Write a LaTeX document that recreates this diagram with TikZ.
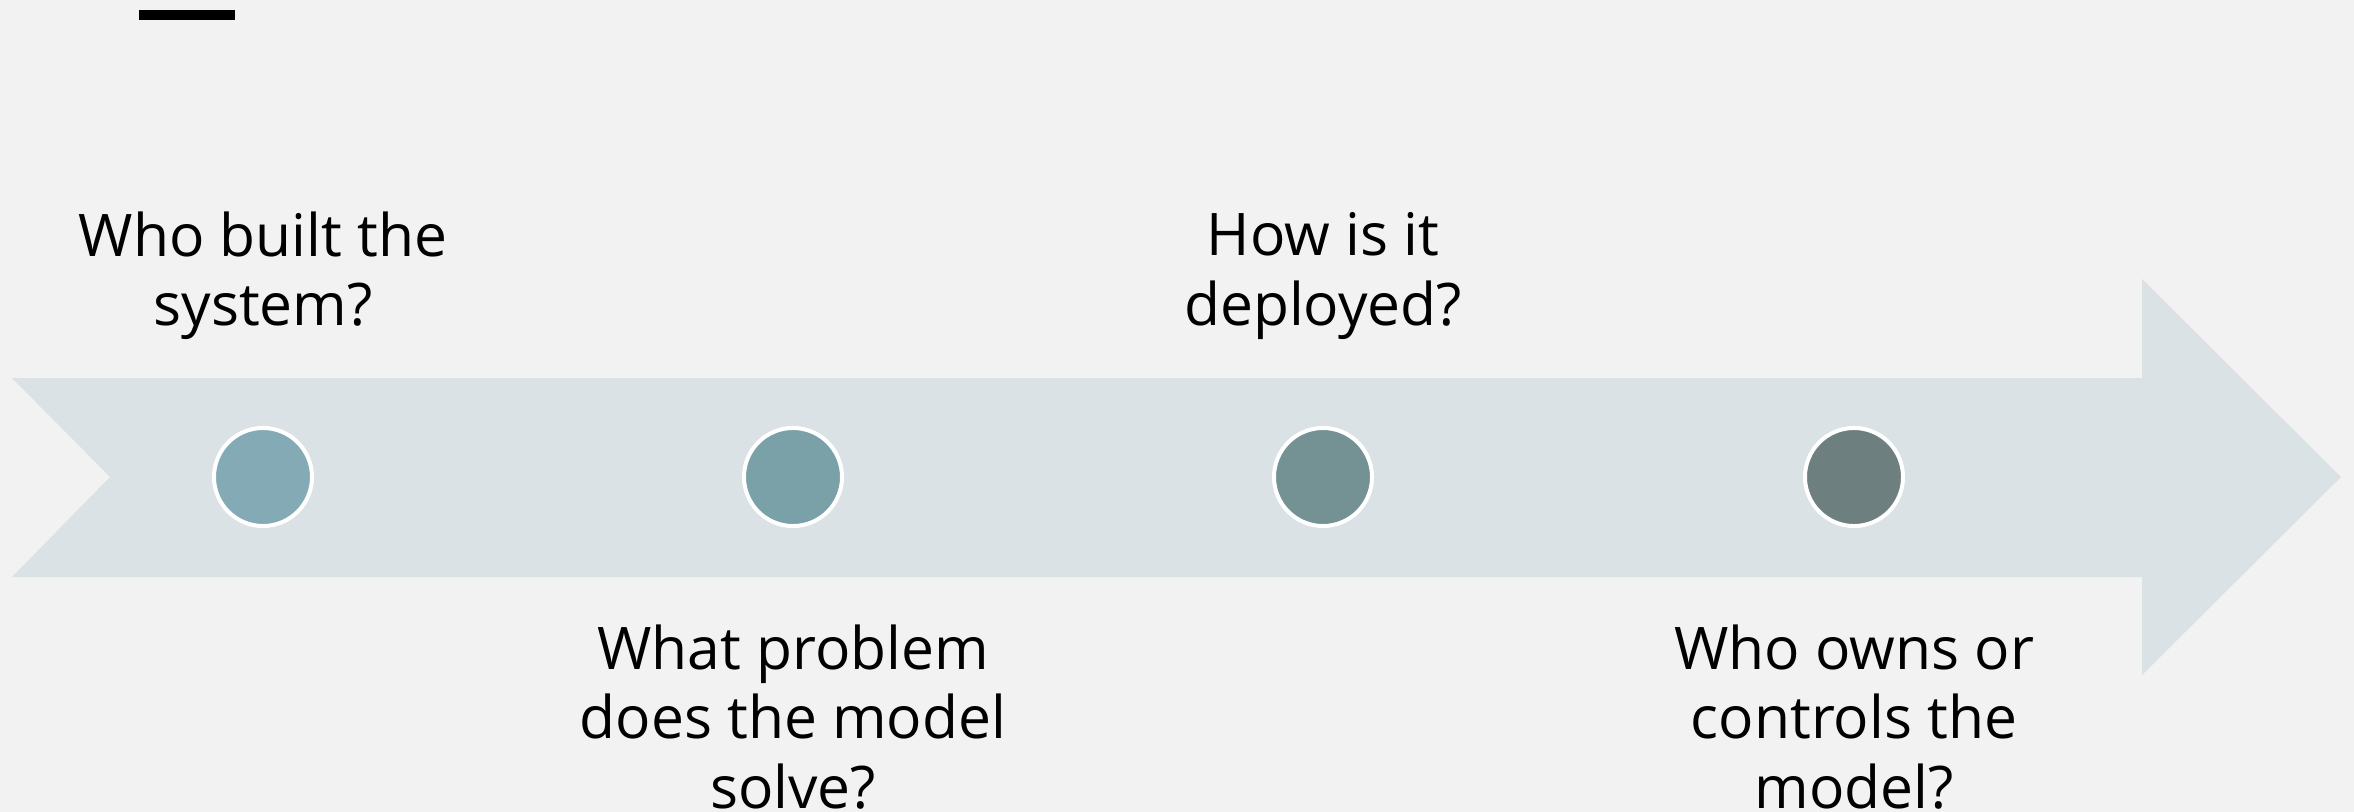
\documentclass[tikz,border=0pt]{standalone}
\usepackage{fontspec}
\setmainfont{Open Sans}
\definecolor{pagegray}{HTML}{F2F2F2}
\definecolor{bandgray}{HTML}{DAE2E5}
\definecolor{dotA}{HTML}{84ABB5}
\definecolor{dotB}{HTML}{7AA0A8}
\definecolor{dotC}{HTML}{749294}
\definecolor{dotD}{HTML}{6E7F80}
\begin{document}
\begin{tikzpicture}[x=0.01cm, y=-0.01cm,
    dot/.style={circle, draw=white, line width=0.04cm, minimum size=0.98cm, inner sep=0pt},
    question/.style={align=center, inner sep=0pt, font=\fontsize{16.7}{19.7}\selectfont}]
        % Page
        \fill[pagegray] (0,0) rectangle (2354,812);
        \fill[black] (139,10) rectangle (235,20); % Title rule

        % Timeline Arrow
        \fill[bandgray] (12,378) -- (2142,378) -- (2142,279) -- (2341,477)
            -- (2142,675) -- (2142,577) -- (12,577) -- (110,477) -- cycle;

        % Milestones
        \node[dot, fill=dotA] (built) at (263,477) {};
        \node[dot, fill=dotB] (problem) at (793,477) {};
        \node[dot, fill=dotC] (deploy) at (1323,477) {};
        \node[dot, fill=dotD] (owner) at (1854,477) {};

        % Questions above
        \node[question] (builtq) at (263,276) {Who built the\\system?};
        \node[question] (deployq) at (1323,276) {How is it\\deployed?};

        % Questions below
        \node[question] (problemq) at (793,717) {What problem\\does the model\\solve?};
        \node[question] (ownerq) at (1854,717) {Who owns or\\controls the\\model?};
    \end{tikzpicture}
\end{document}
